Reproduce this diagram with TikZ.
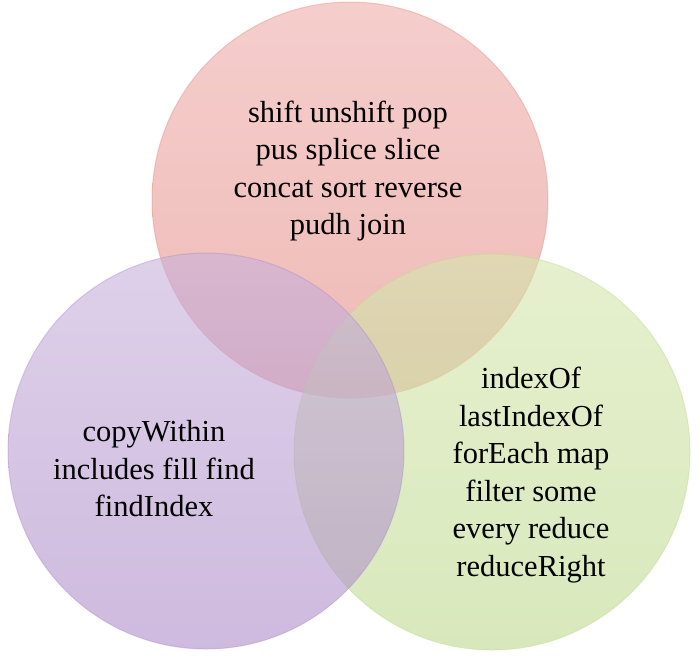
\documentclass[tikz,border=0pt]{standalone}
\usepackage{fontspec}
\setmainfont{Liberation Serif}

\definecolor{pinktop}{RGB}{238,173,170}
\definecolor{pinkbot}{RGB}{227,140,133}
\definecolor{greentop}{RGB}{213,230,173}
\definecolor{greenbot}{RGB}{190,217,143}
\definecolor{lilactop}{RGB}{200,177,220}
\definecolor{lilacbot}{RGB}{173,140,200}

\begin{document}
\begin{tikzpicture}[x=1pt, y=-1pt,
  set/.style={circle, minimum size=396pt, inner sep=0pt, shading=axis, fill opacity=0.6, draw opacity=0.4, line width=1pt},
  words/.style={align=center, font=\fontsize{30.5}{37.5}\selectfont}]
  \useasboundingbox (0,0) rectangle (700,662);
  % the three sets
  \node[set, top color=pinktop, bottom color=pinkbot, draw=pinkbot] (mutator) at (350,200) {};
  \node[set, top color=greentop, bottom color=greenbot, draw=greenbot] (iteration) at (492,452) {};
  \node[set, top color=lilactop, bottom color=lilacbot, draw=lilacbot] (newer) at (206,451) {};
  % method names
  \node[words] (mutatortext) at (348,171) {shift unshift pop\\pus splice slice\\concat sort reverse\\pudh join};
  \node[words] (newertext) at (154,469) {copyWithin\\includes fill find\\findIndex};
  \node[words] (iterationtext) at (531,475) {indexOf\\lastIndexOf\\forEach map\\filter some\\every reduce\\reduceRight};
\end{tikzpicture}
\end{document}
